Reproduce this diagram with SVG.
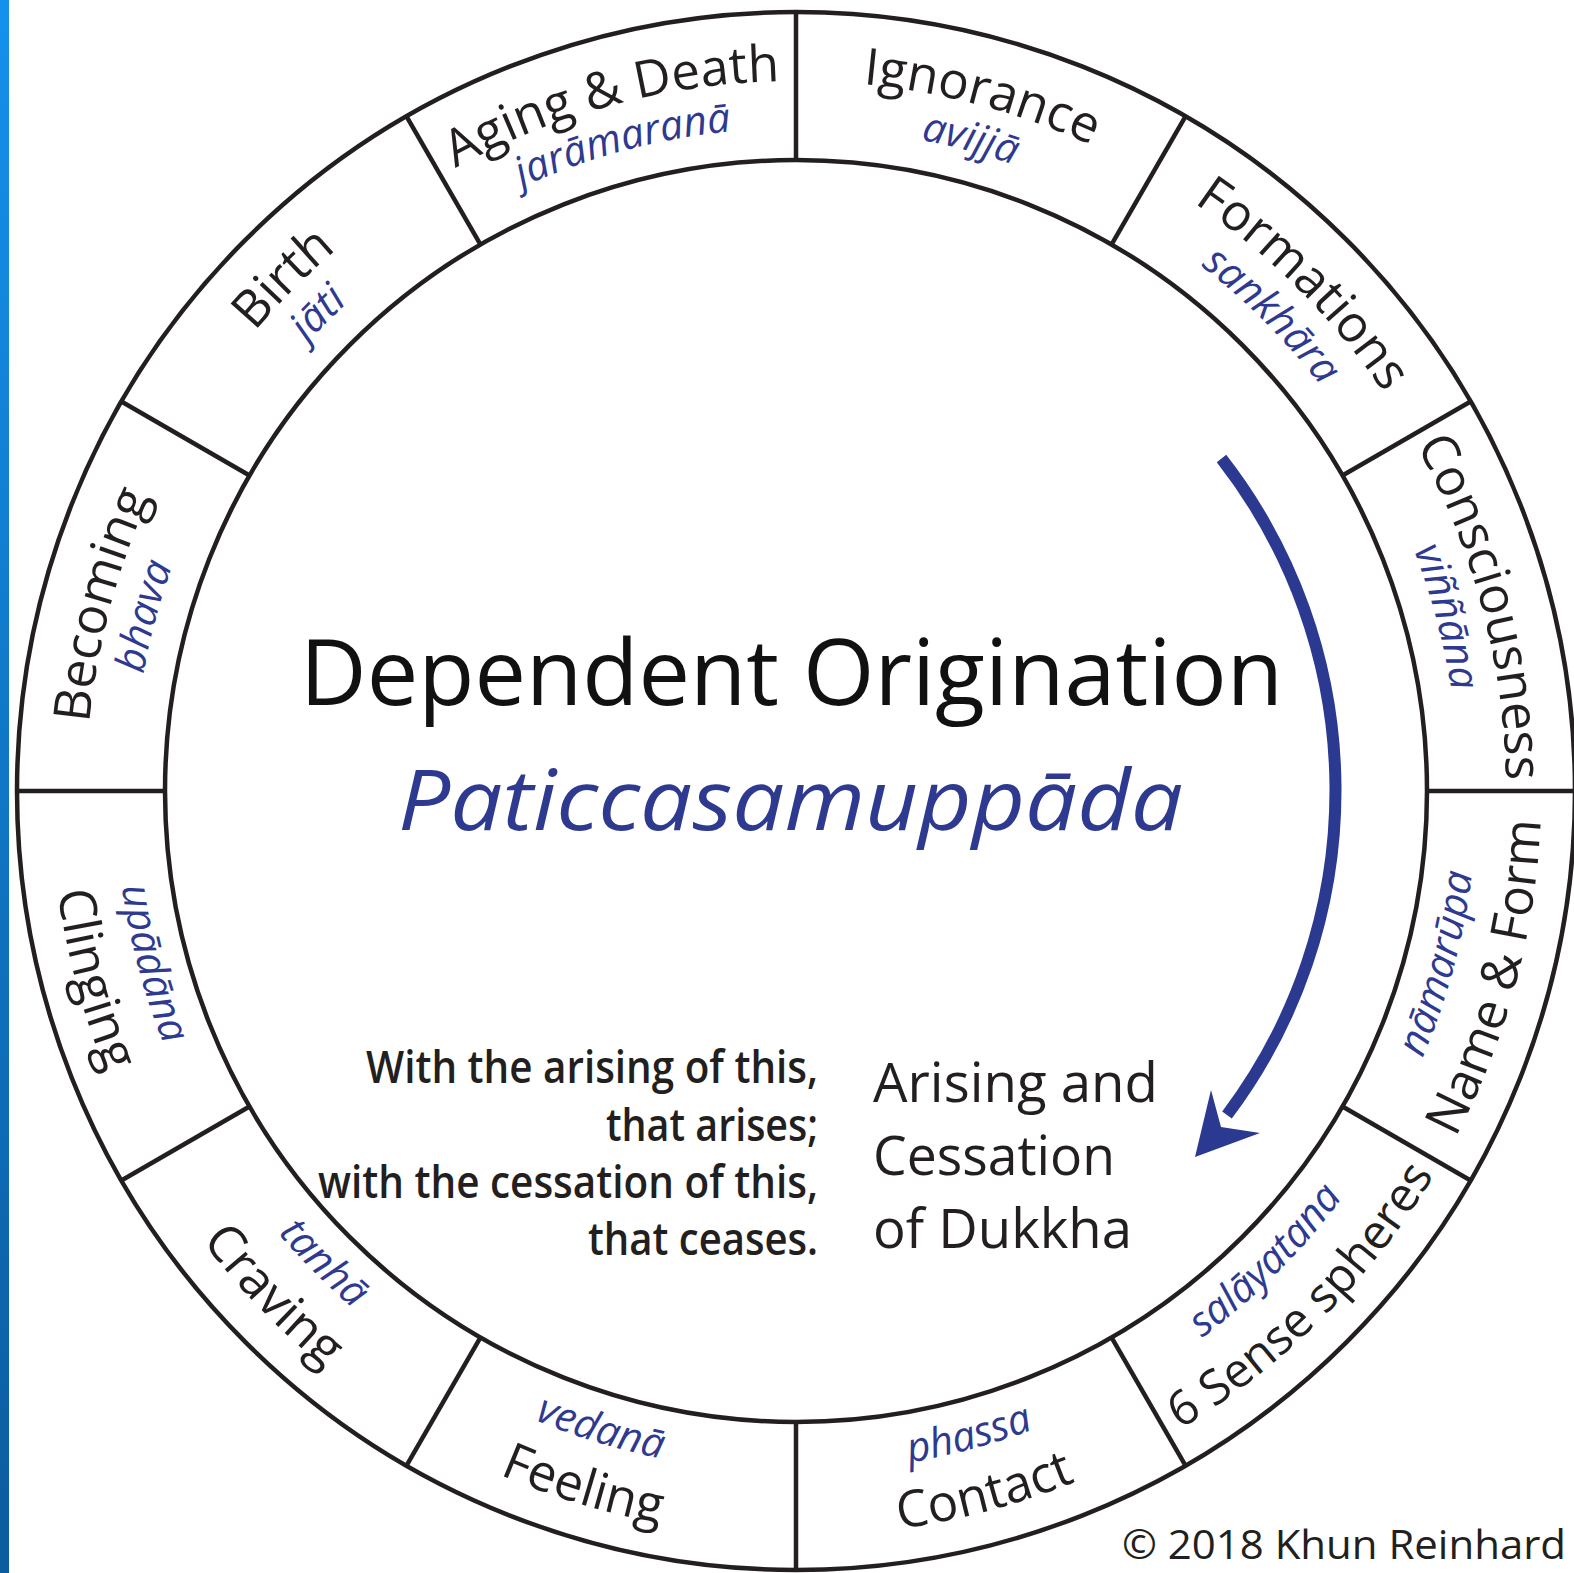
<svg xmlns="http://www.w3.org/2000/svg" xmlns:xlink="http://www.w3.org/1999/xlink" width="1574" height="1573" viewBox="0 0 1574 1573">
<defs>
<style>
.ring{fill:none;stroke:#231f20;stroke-width:4.5}
.en{font-family:"Open Sans","Noto Sans",sans-serif;font-size:51px;fill:#231f20}
.pali{font-family:"Open Sans","Noto Sans",sans-serif;font-style:italic;font-size:41px;fill:#2e3a8f}
.quote{font-family:"Open Sans","Noto Sans",sans-serif;font-weight:600;font-size:46px;fill:#231f20}
.dukkha{font-family:"Open Sans","Noto Sans",sans-serif;font-size:54px;fill:#231f20}
</style>
<linearGradient id="strip" x1="0" y1="0" x2="0" y2="1">
<stop offset="0" stop-color="#1590ec"/>
<stop offset="1" stop-color="#0b5c9e"/>
</linearGradient>
<path id="topEn" d="M441,176.1 A710,710 0 0 1 1151,176.1"/>
<path id="topPa" d="M464.5,216.8 A663,663 0 0 1 1127.5,216.8"/>
<path id="botEn" d="M423.5,1436.2 A745,745 0 0 0 1168.5,1436.2"/>
<path id="botPa" d="M455.5,1380.8 A681,681 0 0 0 1136.5,1380.8"/>
<line id="div" x1="796" y1="160" x2="796" y2="12" stroke="#231f20" stroke-width="4.5"/>
</defs>
<rect width="1574" height="1573" fill="#ffffff"/>
<rect x="0" y="0" width="9" height="1573" fill="url(#strip)"/>
<g id="ring">
<circle class="ring" cx="796" cy="791" r="779"/>
<circle class="ring" cx="796" cy="791" r="631"/>
<use xlink:href="#div"/>
<use xlink:href="#div" transform="rotate(30 796 791)"/>
<use xlink:href="#div" transform="rotate(60 796 791)"/>
<use xlink:href="#div" transform="rotate(90 796 791)"/>
<use xlink:href="#div" transform="rotate(120 796 791)"/>
<use xlink:href="#div" transform="rotate(150 796 791)"/>
<use xlink:href="#div" transform="rotate(180 796 791)"/>
<use xlink:href="#div" transform="rotate(210 796 791)"/>
<use xlink:href="#div" transform="rotate(240 796 791)"/>
<use xlink:href="#div" transform="rotate(270 796 791)"/>
<use xlink:href="#div" transform="rotate(300 796 791)"/>
<use xlink:href="#div" transform="rotate(330 796 791)"/>
</g>
<g id="ignorance">
<text class="en" transform="rotate(15 796 791)"><textPath xlink:href="#topEn" startOffset="50%" text-anchor="middle">Ignorance</textPath></text>
<text class="pali" transform="rotate(15 796 791)"><textPath xlink:href="#topPa" startOffset="50%" text-anchor="middle">avijjā</textPath></text>
</g>
<g id="formations">
<text class="en" transform="rotate(45 796 791)"><textPath xlink:href="#topEn" startOffset="50%" text-anchor="middle">Formations</textPath></text>
<text class="pali" transform="rotate(45 796 791)"><textPath xlink:href="#topPa" startOffset="50%" text-anchor="middle">sankhāra</textPath></text>
</g>
<g id="consciousness">
<text class="en" transform="rotate(75 796 791)"><textPath xlink:href="#topEn" startOffset="50%" text-anchor="middle">Consciousness</textPath></text>
<text class="pali" transform="rotate(75 796 791)"><textPath xlink:href="#topPa" startOffset="50%" text-anchor="middle">viññāna</textPath></text>
</g>
<g id="name-form">
<text class="en" transform="rotate(-75 796 791)"><textPath xlink:href="#botEn" startOffset="50%" text-anchor="middle">Name &amp; Form</textPath></text>
<text class="pali" transform="rotate(-75 796 791)"><textPath xlink:href="#botPa" startOffset="50%" text-anchor="middle">nāmarūpa</textPath></text>
</g>
<g id="sense-spheres">
<text class="en" style="font-size:48px" transform="rotate(-45 796 791)"><textPath xlink:href="#botEn" startOffset="50%" text-anchor="middle">6 Sense spheres</textPath></text>
<text class="pali" transform="rotate(-45 796 791)"><textPath xlink:href="#botPa" startOffset="50%" text-anchor="middle">salāyatana</textPath></text>
</g>
<g id="contact">
<text class="en" transform="rotate(-15 796 791)"><textPath xlink:href="#botEn" startOffset="50%" text-anchor="middle">Contact</textPath></text>
<text class="pali" transform="rotate(-15 796 791)"><textPath xlink:href="#botPa" startOffset="50%" text-anchor="middle">phassa</textPath></text>
</g>
<g id="feeling">
<text class="en" transform="rotate(17 796 791)"><textPath xlink:href="#botEn" startOffset="50%" text-anchor="middle">Feeling</textPath></text>
<text class="pali" transform="rotate(17 796 791)"><textPath xlink:href="#botPa" startOffset="50%" text-anchor="middle">vedanā</textPath></text>
</g>
<g id="craving">
<text class="en" transform="rotate(46 796 791)"><textPath xlink:href="#botEn" startOffset="50%" text-anchor="middle">Craving</textPath></text>
<text class="pali" transform="rotate(45 796 791)"><textPath xlink:href="#botPa" startOffset="50%" text-anchor="middle">tanhā</textPath></text>
</g>
<g id="clinging">
<text class="en" transform="rotate(75 796 791)"><textPath xlink:href="#botEn" startOffset="50%" text-anchor="middle">Clinging</textPath></text>
<text class="pali" transform="rotate(75 796 791)"><textPath xlink:href="#botPa" startOffset="50%" text-anchor="middle">upādāna</textPath></text>
</g>
<g id="becoming">
<text class="en" transform="rotate(-75 796 791)"><textPath xlink:href="#topEn" startOffset="50%" text-anchor="middle">Becoming</textPath></text>
<text class="pali" transform="rotate(-75 796 791)"><textPath xlink:href="#topPa" startOffset="50%" text-anchor="middle">bhava</textPath></text>
</g>
<g id="birth">
<text class="en" transform="rotate(-45 796 791)"><textPath xlink:href="#topEn" startOffset="50%" text-anchor="middle">Birth</textPath></text>
<text class="pali" transform="rotate(-45 796 791)"><textPath xlink:href="#topPa" startOffset="50%" text-anchor="middle">jāti</textPath></text>
</g>
<g id="aging-death">
<text class="en" transform="rotate(-15 796 791)"><textPath xlink:href="#topEn" startOffset="50%" text-anchor="middle">Aging &amp; Death</textPath></text>
<text class="pali" transform="rotate(-15 796 791)"><textPath xlink:href="#topPa" startOffset="50%" text-anchor="middle">jarāmaranā</textPath></text>
</g>
<g id="title">
<text x="300" y="705" textLength="983" lengthAdjust="spacingAndGlyphs" font-family="Open Sans, Noto Sans, sans-serif" font-size="92" fill="#111111">Dependent Origination</text>
<text x="398" y="830" textLength="785" lengthAdjust="spacingAndGlyphs" font-family="Open Sans, Noto Sans, sans-serif" font-style="italic" font-size="84" fill="#2e3a8f">Paticcasamuppāda</text>
</g>
<g id="quote">
<text class="quote" x="366" y="1083" textLength="452" lengthAdjust="spacingAndGlyphs">With the arising of this,</text>
<text class="quote" x="606" y="1141" textLength="212" lengthAdjust="spacingAndGlyphs">that arises;</text>
<text class="quote" x="318" y="1198" textLength="500" lengthAdjust="spacingAndGlyphs">with the cessation of this,</text>
<text class="quote" x="588" y="1255" textLength="230" lengthAdjust="spacingAndGlyphs">that ceases.</text>
</g>
<g id="dukkha">
<text class="dukkha" x="873" y="1102" textLength="285" lengthAdjust="spacingAndGlyphs">Arising and</text>
<text class="dukkha" x="873" y="1175" textLength="242" lengthAdjust="spacingAndGlyphs">Cessation</text>
<text class="dukkha" x="873" y="1248" textLength="259" lengthAdjust="spacingAndGlyphs">of Dukkha</text>
</g>
<g id="connectors">
<path d="M1221.5,458.5 A540,540 0 0 1 1227,1115" fill="none" stroke="#2b3990" stroke-width="12"/>
<polygon points="1195,1157 1211,1090 1221,1127 1260,1133" fill="#2b3990"/>
</g>
<text x="1122" y="1559" textLength="444" lengthAdjust="spacingAndGlyphs" font-family="Open Sans, Noto Sans, sans-serif" font-size="41" fill="#231f20">© 2018 Khun Reinhard</text>
</svg>
